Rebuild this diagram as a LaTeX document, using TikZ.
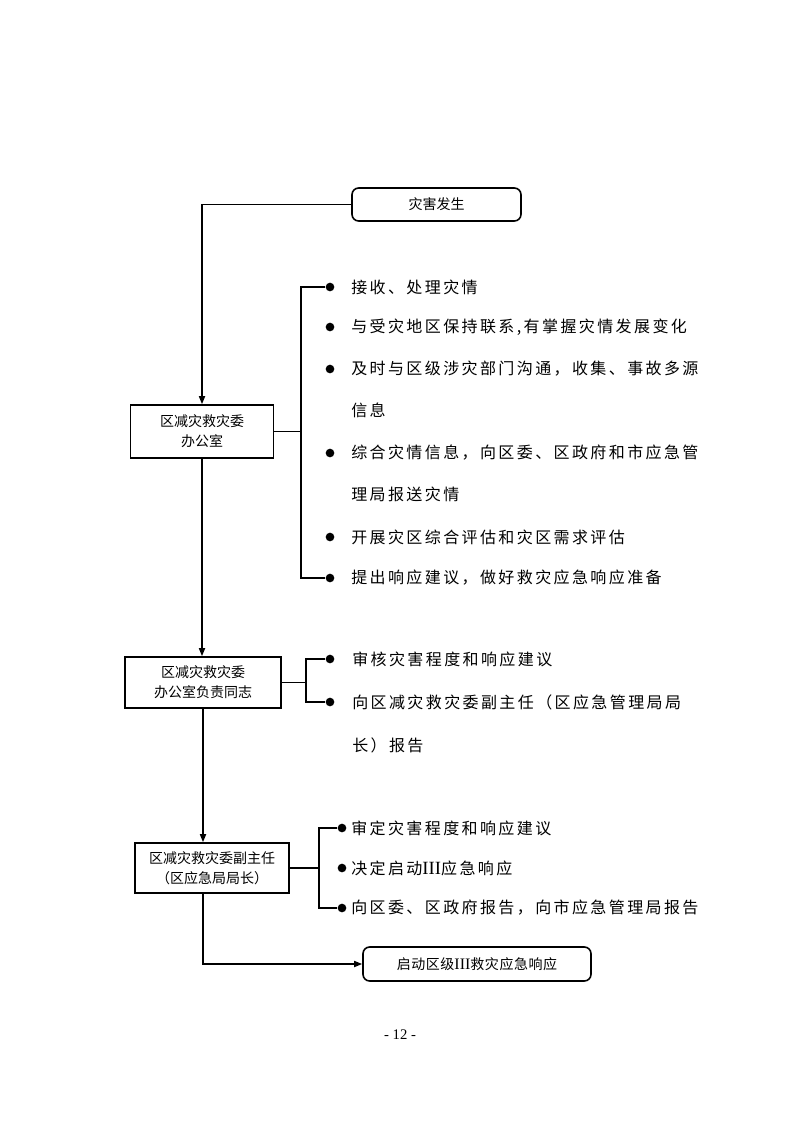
\documentclass[tikz,border=0pt]{standalone}
\usepackage{fontspec}
\setmainfont{Liberation Serif}
\newfontfamily\cjk{Noto Sans CJK SC}
\newfontfamily\cjksp{Noto Sans CJK SC}[LetterSpace=15]
\newfontfamily\cjkbx{Noto Sans CJK SC}[LetterSpace=4]
\newfontfamily\romanfam{Liberation Serif}
\usetikzlibrary{arrows.meta}
\tikzset{
  box/.style={draw, line width=1.2pt, align=center, inner sep=0pt,
    font=\cjk\fontsize{10.5}{15}\selectfont},
  rbox/.style={box, rounded corners=5pt},
  item/.style={anchor=west, inner sep=0pt, font=\cjksp\fontsize{12}{14}\selectfont},
  dot/.style={circle, fill, inner sep=0pt, minimum size=6.5pt},
  arr/.style={-{Triangle[length=6pt,width=4.5pt]}},
  ln/.style={line width=1.2pt}
}
\newcommand{\rnbig}[1]{{\romanfam\fontsize{14}{14}\selectfont #1}}
\newcommand{\rnsm}[1]{{\romanfam\fontsize{12}{12}\selectfont #1}}
\begin{document}
\begin{tikzpicture}[x=0.75pt,y=-0.75pt]
\useasboundingbox (0,0) rectangle (793,1122);

% boxes
\node[rbox, minimum width=126.75pt, minimum height=24.75pt] (b0) at (436.5,204.5) {灾害发生};
\node[box, minimum width=107.25pt, minimum height=39.75pt] (b1) at (202,431.5) {区减灾救灾委\\办公室};
\node[box, minimum width=117pt, minimum height=38.25pt] (b2) at (203,682.5) {区减灾救灾委\\办公室负责同志};
\node[box, minimum width=115.5pt, minimum height=37.5pt] (b3) at (212,868) {区减灾救灾委副主任\\（区应急局局长）};
\node[rbox, minimum width=171pt, minimum height=25.5pt, font=\cjkbx\fontsize{10.5}{15}\selectfont] (b4) at (477,964) {启动区级\rnsm{III}救灾应急响应};

% main flow
\draw[ln, arr] (b0.west) -| (b1.north);
\draw[ln, arr] (b1.south) -- (b1.south |- b2.north);
\draw[ln, arr] (b2.south) -- (b2.south |- b3.north);
\draw[ln, arr] (b2.south |- b3.south) |- (b4.west);

% group 1
\node[dot] (d11) at (330,287) {};
\node[dot] (d12) at (330,327) {};
\node[dot] (d13) at (330,369) {};
\node[dot] (d14) at (330,453) {};
\node[dot] (d15) at (330,537) {};
\node[dot] (d16) at (330,578) {};
\coordinate (j1) at (301,431.5);
\draw[ln] (b1.east) -- (j1);
\draw[ln] (d11.west) -| (j1) |- (d16.west);
\node[item] (t11) at (351,287) {接收、处理灾情};
\node[item] (t12) at (351,327) {与受灾地区保持联系,有掌握灾情发展变化};
\node[item] (t13) at (351,369) {及时与区级涉灾部门沟通，收集、事故多源};
\node[item] (t13b) at (351,410) {信息};
\node[item] (t14) at (351,453) {综合灾情信息，向区委、区政府和市应急管};
\node[item] (t14b) at (351,494) {理局报送灾情};
\node[item] (t15) at (351,537) {开展灾区综合评估和灾区需求评估};
\node[item] (t16) at (351,578) {提出响应建议，做好救灾应急响应准备};

% group 2
\node[dot] (d21) at (330,659) {};
\node[dot] (d22) at (330,702) {};
\coordinate (j2) at (306,682.5);
\draw[ln] (b2.east) -- (j2);
\draw[ln] (d21.west) -| (j2) |- (d22.west);
\node[item] (t21) at (352,659) {审核灾害程度和响应建议};
\node[item] (t22) at (352,702) {向区减灾救灾委副主任（区应急管理局局};
\node[item] (t22b) at (352,745) {长）报告};

% group 3
\node[dot] (d31) at (342,828) {};
\node[dot] (d32) at (342,868) {};
\node[dot] (d33) at (342,908) {};
\coordinate (j3) at (319,868);
\draw[ln] (b3.east) -- (j3);
\draw[ln] (d31.west) -| (j3) |- (d33.west);
\node[item] (t31) at (351,828) {审定灾害程度和响应建议};
\node[item] (t32) at (351,868) {决定启动\rnbig{III}应急响应};
\node[item] (t33) at (351,908) {向区委、区政府报告，向市应急管理局报告};

% page number
\node[font=\fontsize{11}{12}\selectfont] (pg) at (400,1035) {- 12 -};
\end{tikzpicture}
\end{document}
